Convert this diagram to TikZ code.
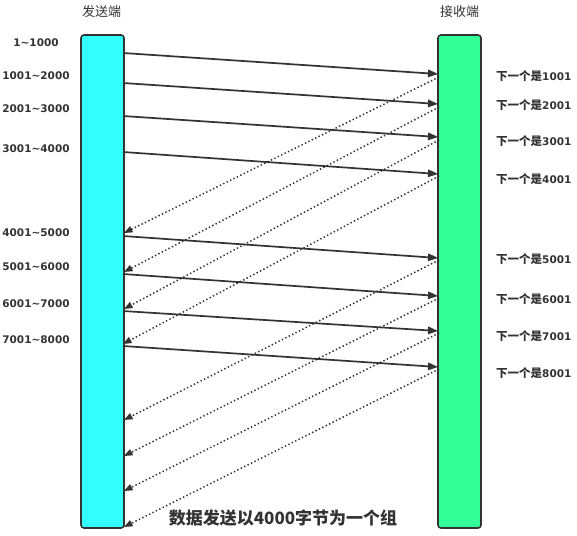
\documentclass[tikz,border=0pt]{standalone}
\usepackage{fontspec}
\setmainfont{DejaVu Sans}
\newfontfamily\cjk{Noto Sans CJK SC}
\usetikzlibrary{arrows.meta}
\definecolor{sendcyan}{HTML}{33FFFF}
\definecolor{recvgreen}{HTML}{33FF99}
\definecolor{inkgray}{HTML}{333333}
\tikzset{
  bar/.style       = {draw=inkgray, line width=1.6pt, rounded corners=3pt,
                      minimum width=43pt, minimum height=493pt, inner sep=0pt},
  sendarrow/.style = {draw=inkgray, line width=1.7pt,
                      -{Triangle[length=10pt, width=7.5pt]}},
  ackarrow/.style  = {draw=inkgray, line width=1.5pt, dash pattern=on 1.4pt off 2.4pt,
                      -{Triangle[length=8.5pt, width=6.5pt]}},
  rangelab/.style  = {font=\fontsize{10.5}{12}\selectfont\bfseries, text=inkgray, inner sep=0pt},
  nextlab/.style   = {font=\fontsize{10.5}{12}\selectfont\bfseries, text=inkgray, inner sep=0pt, anchor=west},
  endtitle/.style  = {font=\cjk\fontsize{13}{15}\selectfont, text=inkgray, inner sep=0pt},
}
\newcommand{\nextis}[1]{{\cjk\fontsize{11.5}{13}\selectfont 下一个是}#1}

\begin{document}
\begin{tikzpicture}[x=1pt, y=-1pt]
  \useasboundingbox (0,0) rectangle (577,535);
  % the two ends
  \node[bar, fill=sendcyan] (sender) at (102.5,281.5) {};
  \node[bar, fill=recvgreen] (receiver) at (459.5,281.5) {};
  \node[endtitle] (sendtitle) at (101.5,12) {发送端};
  \node[endtitle] (recvtitle) at (459.5,12) {接收端};
  % points on the sender
  \coordinate (s1) at (123,53);
  \coordinate (s2) at (123,83);
  \coordinate (s3) at (123,116);
  \coordinate (s4) at (123,152);
  \coordinate (s5) at (123,236);
  \coordinate (s6) at (123,274);
  \coordinate (s7) at (123,311);
  \coordinate (s8) at (123,346);
  \coordinate (a1) at (124,233);
  \coordinate (a2) at (124,272);
  \coordinate (a3) at (124,309);
  \coordinate (a4) at (123,344);
  \coordinate (a5) at (124,420);
  \coordinate (a6) at (124,456);
  \coordinate (a7) at (124,491);
  \coordinate (a8) at (124,527);
  % points on the receiver
  \coordinate (r1) at (438,74);
  \coordinate (r2) at (438,104);
  \coordinate (r3) at (438,137);
  \coordinate (r4) at (438,174);
  \coordinate (r5) at (438,258);
  \coordinate (r6) at (438,296);
  \coordinate (r7) at (438,331);
  \coordinate (r8) at (438,367);
  \coordinate (q1) at (439,77);
  \coordinate (q2) at (439,107);
  \coordinate (q3) at (439,140);
  \coordinate (q4) at (439,176);
  \coordinate (q5) at (439,260);
  \coordinate (q6) at (439,298);
  \coordinate (q7) at (439,333);
  \coordinate (q8) at (439,369);
  % data segments
  \draw[sendarrow] (s1) -- (r1);
  \draw[sendarrow] (s2) -- (r2);
  \draw[sendarrow] (s3) -- (r3);
  \draw[sendarrow] (s4) -- (r4);
  \draw[sendarrow] (s5) -- (r5);
  \draw[sendarrow] (s6) -- (r6);
  \draw[sendarrow] (s7) -- (r7);
  \draw[sendarrow] (s8) -- (r8);
  % acknowledgements
  \draw[ackarrow] (q1) -- (a1);
  \draw[ackarrow] (q2) -- (a2);
  \draw[ackarrow] (q3) -- (a3);
  \draw[ackarrow] (q4) -- (a4);
  \draw[ackarrow] (q5) -- (a5);
  \draw[ackarrow] (q6) -- (a6);
  \draw[ackarrow] (q7) -- (a7);
  \draw[ackarrow] (q8) -- (a8);
  % byte ranges
  \node[rangelab] (g1) at (36,43) {1\char`~1000};
  \node[rangelab] (g2) at (36,76) {1001\char`~2000};
  \node[rangelab] (g3) at (36,109) {2001\char`~3000};
  \node[rangelab] (g4) at (36,149) {3001\char`~4000};
  \node[rangelab] (g5) at (36,233) {4001\char`~5000};
  \node[rangelab] (g6) at (36,267) {5001\char`~6000};
  \node[rangelab] (g7) at (36,304) {6001\char`~7000};
  \node[rangelab] (g8) at (36,340) {7001\char`~8000};
  % expected next byte
  \node[nextlab] (n1) at (496,76) {\nextis{1001}};
  \node[nextlab] (n2) at (496,105) {\nextis{2001}};
  \node[nextlab] (n3) at (496,141) {\nextis{3001}};
  \node[nextlab] (n4) at (496,179) {\nextis{4001}};
  \node[nextlab] (n5) at (496,259) {\nextis{5001}};
  \node[nextlab] (n6) at (496,299) {\nextis{6001}};
  \node[nextlab] (n7) at (496,336) {\nextis{7001}};
  \node[nextlab] (n8) at (496,373) {\nextis{8001}};
  \node[font=\cjk\bfseries\fontsize{17}{19}\selectfont, text=inkgray, inner sep=0pt]
    (note) at (283,518) {数据发送以4000字节为一个组};
\end{tikzpicture}
\end{document}
